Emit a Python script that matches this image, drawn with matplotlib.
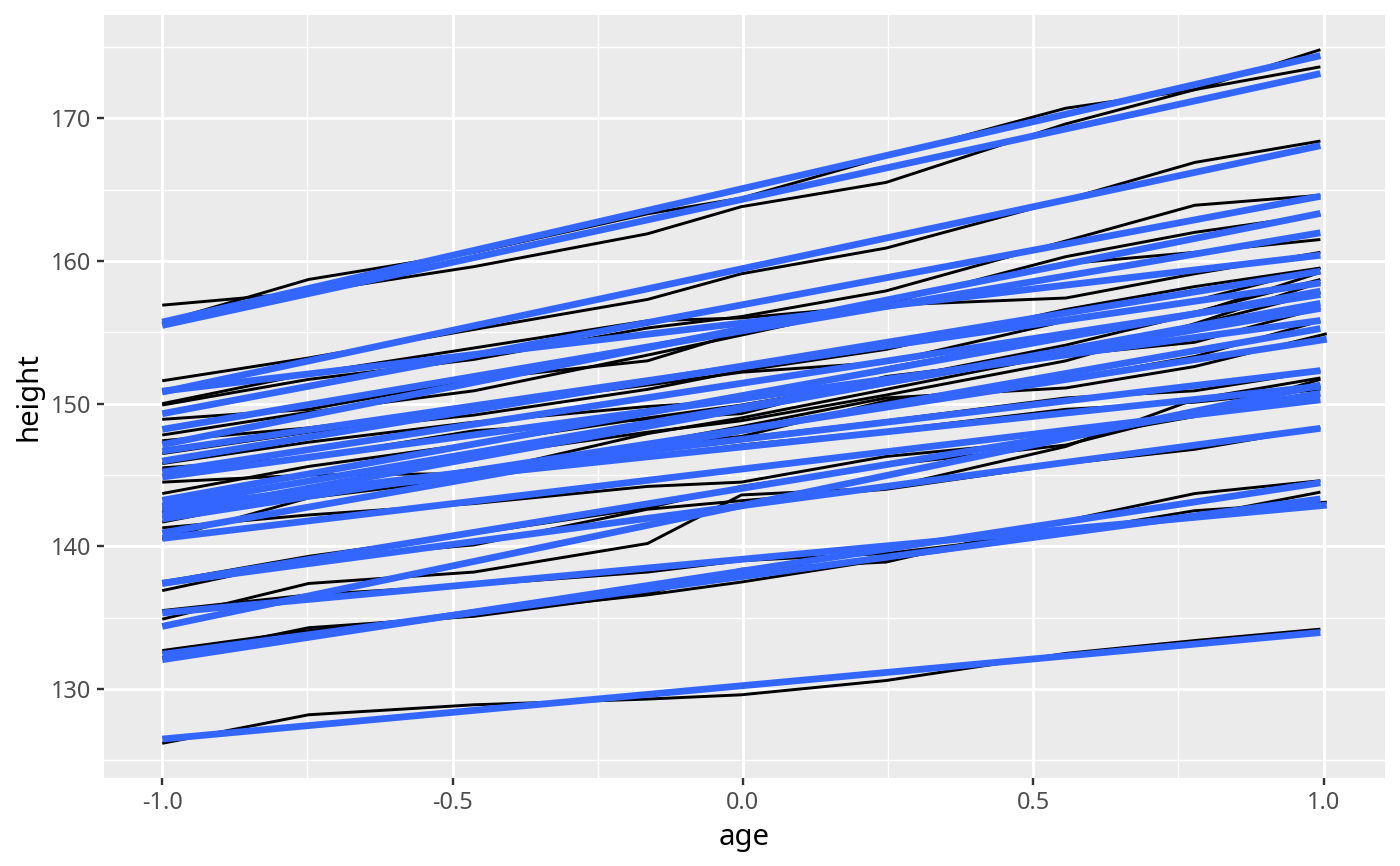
import numpy as np
import matplotlib
matplotlib.use("Agg")
import matplotlib.pyplot as plt
from matplotlib.ticker import FixedLocator

plt.rcParams['font.family'] = ['Noto Sans', 'DejaVu Sans']
plt.rcParams['axes.unicode_minus'] = False

# measurement occasions (age, centred)
ages = [-1.0, -0.7479, -0.463, -0.1643, -0.0027, 0.2466, 0.5562, 0.7781, 0.9945]
ages_late = [-1.0, -0.7479, -0.463, -0.1643, -0.0027, 0.2466, 0.5562, 0.7781, 1.0055]

# heights per boy
h01 = [140.5, 143.4, 144.8, 147.1, 147.7, 150.2, 151.7, 153.3, 155.8]
h02 = [136.9, 139.1, 140.1, 142.6, 143.2, 144.0, 145.8, 146.8, 148.3]
h03 = [150.0, 152.1, 153.9, 155.8, 156.0, 156.9, 157.4, 159.1, 160.6]
h04 = [155.7, 158.7, 160.6, 163.3, 164.4, 167.3, 170.7, 172.0, 174.8]
h05 = [145.8, 147.3, 148.7, 149.8, 150.2, 152.5, 154.8, 156.4, 158.7]
h06 = [142.4, 143.8, 145.2, 146.3, 147.1, 148.1, 149.6, 150.1, 151.0]
h07 = [141.3, 142.2, 143.0, 144.2, 144.5, 146.3, 147.5, 149.1, 151.7]
h08 = [141.7, 143.7, 145.1, 147.2, 148.4, 150.4, 151.1, 152.6, 154.9]
h09 = [132.7, 134.1, 135.3, 136.6, 137.5, 139.1, 140.9, 142.1, 143.8]
h10 = [126.2, 128.2, 128.9, 129.3, 129.6, 130.6, 132.5, 133.4, 134.2]
h11 = [142.5, 143.8, 145.4, 146.8, 147.6, 148.8, 150.4, 150.9, 152.3]
h12 = [149.9, 151.7, 153.1, 155.3, 156.1, 157.9, 161.4, 163.9, 164.6]
h13 = [148.9, 149.6, 151.7, 153.0, 155.0, 157.2, 159.8, 160.6, 161.5]
h14 = [151.6, 153.2, 155.2, 157.3, 159.1, 160.9, 164.3, 166.9, 168.4]
h15 = [137.5, 139.3, 140.9, 142.7, 144.2, 145.7, 147.1, 149.4, 151.2]
h16 = [142.8, 144.6, 146.3, 148.0, 148.8, 150.6, 153.0, 155.6, 158.5]
h17 = [134.9, 137.4, 138.2, 140.2, 143.6, 144.1, 147.0, 150.3, 151.8]
h18 = [145.5, 146.2, 148.1, 148.9, 149.3, 151.9, 153.4, 154.3, 156.7]
h19 = [156.9, 157.8, 159.6, 161.9, 163.8, 165.5, 169.6, 172.0, 173.6]
h20 = [143.7, 145.6, 147.2, 149.0, 149.9, 151.6, 154.1, 156.3, 159.2]
h21 = [147.4, 148.3, 149.8, 151.3, 152.2, 152.9, 155.8, 157.2, 159.5]
h22 = [144.5, 145.0, 145.1, 147.9, 149.0, 151.0, 153.5, 155.5, 157.8]
h23 = [147.8, 149.4, 150.9, 153.4, 154.8, 157.0, 160.3, 162.0, 163.25]
h24 = [135.5, 136.6, 137.3, 138.2, 139.0, 139.5, 141.0, 142.5, 143.1]
h25 = [132.2, 134.3, 135.1, 136.7, 138.4, 138.9, 141.8, 143.7, 144.6]
h26 = [146.5, 148.0, 149.2, 151.0, 152.3, 153.8, 156.6, 158.2, 159.5]

heights = [h01, h02, h03, h04, h05, h06, h07, h08, h09, h10, h11, h12, h13,
           h14, h15, h16, h17, h18, h19, h20, h21, h22, h23, h24, h25, h26]
late_boys = [8, 24]   # boys whose last visit came slightly later

x_ticks = [-1.0, -0.5, 0.0, 0.5, 1.0]
x_labels = ["-1.0", "-0.5", "0.0", "0.5", "1.0"]
y_ticks = [130, 140, 150, 160, 170]
y_labels = ["130", "140", "150", "160", "170"]

W, H, DPI = 1400, 866, 192
fig = plt.figure(figsize=(W / DPI, H / DPI), dpi=DPI)
ax = fig.add_axes([104 / W, 1 - 778 / H, (1385 - 104) / W, (778 - 15) / H])
ax.set_facecolor("#EBEBEB")
for s in ax.spines.values():
    s.set_visible(False)

xs_all, ys_all = [], []
series = []
for i, h in enumerate(heights, start=1):
    x = np.array(ages_late if i in late_boys else ages)
    y = np.array(h)
    series.append((x, y))
    xs_all.extend(x)
    ys_all.extend(y)

for x, y in series:
    ax.plot(x, y, color="black", lw=1.1, solid_joinstyle="round",
            solid_capstyle="butt", zorder=3)

for x, y in series:
    coef = np.polyfit(x, y, 1)
    xf = np.linspace(x.min(), x.max(), 80)
    ax.plot(xf, np.polyval(coef, xf), color="#3366FF", lw=2.55,
            solid_capstyle="butt", zorder=4)

xmin, xmax = min(xs_all), max(xs_all)
ymin, ymax = min(ys_all), max(ys_all)
dx, dy = (xmax - xmin) * 0.05, (ymax - ymin) * 0.05
ax.set_xlim(xmin - dx, xmax + dx)
ax.set_ylim(ymin - dy, ymax + dy)

ax.xaxis.set_major_locator(FixedLocator(x_ticks))
ax.set_xticklabels(x_labels)
ax.yaxis.set_major_locator(FixedLocator(y_ticks))
ax.set_yticklabels(y_labels)
ax.xaxis.set_minor_locator(FixedLocator([-0.75, -0.25, 0.25, 0.75]))
ax.yaxis.set_minor_locator(FixedLocator([125, 135, 145, 155, 165, 175]))

ax.grid(which="major", color="white", lw=1.1, zorder=1)
ax.grid(which="minor", color="white", lw=0.55, zorder=1)
ax.set_axisbelow(True)

ax.tick_params(which="major", length=2.75, width=0.9, color="#333333",
               labelcolor="#4D4D4D", labelsize=8.8, pad=2.2)
ax.tick_params(which="minor", length=0)

ax.set_xlabel("age", fontsize=11, color="black", labelpad=2.75)
ax.set_ylabel("height", fontsize=11, color="black", labelpad=2.75)

fig.savefig("out.png", dpi=DPI, facecolor="white")
